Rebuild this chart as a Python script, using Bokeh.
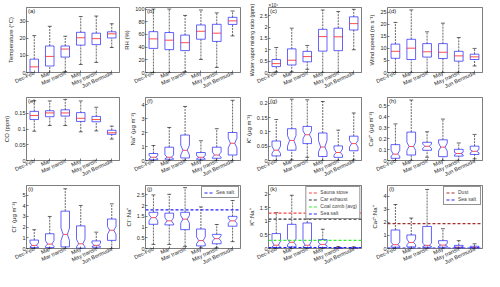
import math
from bokeh.plotting import figure
from bokeh.layouts import gridplot
from bokeh.models import FixedTicker, Label, Legend, LegendItem, NumeralTickFormatter
from bokeh.embed import file_html
from bokeh.resources import INLINE

categories = ["Dec-Feb", "Mar", "Mar transit", "May", "May transit", "Jun Bermuda"]

# (a) Temperature (°C)
temp_lw = [-10.0, -5.0, 0.5, 4.7, 5.9, 14.6]
temp_q1 = [-0.5, 3.8, 9.0, 16.0, 16.3, 20.2]
temp_med = [3.3, 9.4, 13.7, 20.3, 19.8, 22.6]
temp_q3 = [7.8, 15.5, 15.5, 23.5, 23.0, 23.8]
temp_uw = [21.6, 27.0, 21.2, 32.7, 33.0, 28.5]

# (b) RH (%)
rh_lw = [0.0, 0.0, 1.0, 20.6, 8.0, 57.7]
rh_q1 = [38.0, 36.0, 34.5, 52.5, 49.0, 75.8]
rh_med = [53.0, 51.0, 47.0, 65.0, 62.0, 81.4]
rh_q3 = [64.4, 63.0, 59.0, 75.0, 76.0, 87.0]
rh_uw = [100.0, 100.0, 90.0, 98.5, 94.0, 97.0]

# (c) Water vapor mixing ratio (x10^4 ppm)
wv_lw = [0.03, 0.03, 0.14, 0.0, 0.0, 1.0]
wv_q1 = [0.26, 0.33, 0.47, 0.94, 0.96, 1.87]
wv_med = [0.39, 0.54, 0.70, 1.58, 1.57, 2.15]
wv_q3 = [0.57, 1.04, 0.93, 1.90, 1.95, 2.45]
wv_uw = [1.10, 1.95, 1.19, 2.75, 2.68, 2.78]

# (d) Wind speed (m/s)
ws_lw = [0.0, 0.0, 0.0, 0.0, 0.0, 2.7]
ws_q1 = [5.9, 5.4, 6.4, 5.8, 4.7, 5.4]
ws_med = [8.8, 10.1, 8.6, 8.4, 6.9, 6.5]
ws_q3 = [11.8, 13.8, 12.0, 12.0, 8.8, 7.6]
ws_uw = [20.8, 26.0, 16.9, 20.5, 14.5, 10.0]

# (e) CO (ppm)
co_lw = [0.093, 0.111, 0.111, 0.091, 0.094, 0.068]
co_q1 = [0.130, 0.139, 0.141, 0.124, 0.123, 0.083]
co_med = [0.143, 0.151, 0.151, 0.134, 0.130, 0.088]
co_q3 = [0.156, 0.158, 0.161, 0.152, 0.140, 0.096]
co_uw = [0.190, 0.189, 0.194, 0.189, 0.169, 0.109]

# (f) Na+
na_lw = [0.0, 0.0, 0.0, 0.0, 0.0, 0.0]
na_q1 = [0.05, 0.09, 0.18, 0.09, 0.16, 0.39]
na_nlo = [0.12, 0.12, 0.40, 0.12, 0.22, 0.90]
na_med = [0.23, 0.23, 0.73, 0.23, 0.39, 1.23]
na_nhi = [0.35, 0.40, 1.10, 0.35, 0.60, 1.60]
na_q3 = [0.50, 0.95, 1.82, 0.57, 0.95, 2.00]
na_uw = [1.07, 2.36, 3.86, 1.41, 2.27, 4.30]

# (g) K+
k_lw = [0.0, 0.002, 0.011, 0.0, 0.0, 0.002]
k_q1 = [0.016, 0.036, 0.059, 0.014, 0.011, 0.034]
k_nlo = [0.025, 0.050, 0.076, 0.030, 0.019, 0.047]
k_med = [0.036, 0.070, 0.090, 0.047, 0.028, 0.059]
k_nhi = [0.050, 0.087, 0.104, 0.070, 0.040, 0.070]
k_q3 = [0.068, 0.111, 0.119, 0.096, 0.051, 0.085]
k_uw = [0.143, 0.214, 0.212, 0.206, 0.106, 0.166]

# (h) Ca2+
ca_lw = [0.0, 0.0, 0.03, 0.0, 0.0, 0.015]
ca_q1 = [0.020, 0.050, 0.093, 0.035, 0.040, 0.055]
ca_nlo = [0.040, 0.093, 0.110, 0.087, 0.052, 0.070]
ca_med = [0.058, 0.128, 0.130, 0.122, 0.064, 0.084]
ca_nhi = [0.093, 0.166, 0.150, 0.160, 0.075, 0.100]
ca_q3 = [0.145, 0.259, 0.166, 0.189, 0.102, 0.131]
ca_uw = [0.334, 0.552, 0.262, 0.378, 0.160, 0.238]

# (i) Cl-
cl_lw = [0.0, 0.0, 0.0, 0.0, 0.0, 0.0]
cl_q1 = [0.09, 0.09, 0.15, 0.03, 0.12, 0.76]
cl_nlo = [0.15, 0.20, 0.74, 0.15, 0.18, 1.32]
cl_med = [0.29, 0.41, 1.32, 0.44, 0.29, 1.71]
cl_nhi = [0.53, 0.74, 1.91, 0.88, 0.50, 2.06]
cl_q3 = [0.79, 1.38, 3.50, 2.12, 0.71, 2.76]
cl_uw = [1.76, 3.00, 5.59, 4.03, 1.53, 4.18]

# (j) Cl-:Na+
clna_lw = [0.19, 0.19, 0.10, 0.03, 0.03, 0.32]
clna_q1 = [1.13, 1.10, 0.88, 0.12, 0.22, 1.04]
clna_nlo = [1.29, 1.15, 1.18, 0.22, 0.34, 1.18]
clna_med = [1.44, 1.29, 1.37, 0.37, 0.46, 1.29]
clna_nhi = [1.57, 1.44, 1.54, 0.54, 0.60, 1.41]
clna_q3 = [1.69, 1.65, 1.69, 0.91, 0.66, 1.50]
clna_uw = [2.50, 2.53, 2.84, 1.94, 1.12, 2.24]
clna_ref_labels = ["Sea salt"]
clna_ref_values = [1.8]

# (k) K+:Na+
kna_lw = [0.0, 0.0, 0.0, 0.0, 0.0, 0.0]
kna_q1 = [0.035, 0.060, 0.035, 0.035, 0.003, 0.003]
kna_nlo = [0.060, 0.130, 0.060, 0.100, 0.008, 0.008]
kna_med = [0.120, 0.230, 0.120, 0.150, 0.012, 0.012]
kna_nhi = [0.270, 0.350, 0.270, 0.220, 0.018, 0.018]
kna_q3 = [0.550, 0.890, 0.940, 0.330, 0.025, 0.025]
kna_uw = [1.32, 1.96, 2.23, 0.71, 0.07, 0.06]
kna_ref_labels = ["Sauna stove", "Car exhaust", "Coal comb (avg)", "Sea salt"]
kna_ref_values = [1.3, 1.08, 0.3, 0.037]

# (l) Ca2+:Na+
cana_lw = [0.0, 0.0, 0.0, 0.0, 0.0, 0.0]
cana_q1 = [0.10, 0.12, 0.10, 0.10, 0.05, 0.03]
cana_nlo = [0.18, 0.30, 0.15, 0.18, 0.08, 0.05]
cana_med = [0.29, 0.46, 0.24, 0.26, 0.10, 0.07]
cana_nhi = [0.48, 0.72, 0.40, 0.38, 0.14, 0.10]
cana_q3 = [1.41, 1.03, 1.68, 0.60, 0.24, 0.17]
cana_uw = [3.35, 2.32, 4.50, 1.51, 0.60, 0.36]
cana_ref_labels = ["Dust", "Sea salt"]
cana_ref_values = [1.9, 0.038]

FONT = "Liberation Sans"
BLUE = "#2020ff"
RED = "#ff2020"
AXC = "#262626"
BOX_W = 0.55
CAP_W = 0.25
X_MIN, X_MAX = 0.5, len(categories) + 0.5
REF_COLORS = {"Sauna stove": "#ff4040", "Car exhaust": "#333333",
              "Coal comb (avg)": "#33ee33", "Sea salt": "#2020ff", "Dust": "#a03030"}


def make_panel(letter, ylabel, y_end, ticks, lw, q1, med, q3, uw, nlo=None, nhi=None,
               refs=None, head=None, height=88, ylabel_size="6px"):
    p = figure(width=121, height=height, x_range=(X_MIN, X_MAX), y_range=(0, y_end),
               output_backend="svg", toolbar_location=None,
               min_border_left=24, min_border_right=2, min_border_top=3, min_border_bottom=12)
    if head is not None:
        p.title.text = head
        p.title.text_font = FONT
        p.title.text_font_size = "4.5px"
        p.title.text_font_style = "normal"
        p.title.text_color = AXC
        p.title.align = "left"
        p.title.standoff = 0
        p.title.offset = 0
        p.min_border_top = 0
    p.background_fill_color = "white"
    p.outline_line_color = AXC
    p.outline_line_width = 0.6
    p.xgrid.visible = False
    p.ygrid.visible = False
    pos = list(range(1, len(categories) + 1))
    p.xaxis.ticker = FixedTicker(ticks=pos)
    p.xaxis.major_label_overrides = {k: c for k, c in zip(pos, categories)}
    p.xaxis.major_label_orientation = math.radians(25)
    p.yaxis.ticker = FixedTicker(ticks=ticks)
    p.yaxis.formatter = NumeralTickFormatter(format="0.[00]")
    for ax in (p.xaxis[0], p.yaxis[0]):
        ax.axis_line_color = None
        ax.major_tick_in = 2
        ax.major_tick_out = 0
        ax.major_tick_line_color = AXC
        ax.major_tick_line_width = 0.6
        ax.minor_tick_line_color = None
        ax.major_label_text_font = FONT
        ax.major_label_text_font_size = "5.5px"
        ax.major_label_text_color = AXC
        ax.major_label_standoff = 1
    p.xaxis.major_label_standoff = 0
    p.yaxis.axis_label = ylabel
    p.yaxis.axis_label_text_font = FONT
    p.yaxis.axis_label_text_font_size = ylabel_size
    p.yaxis.axis_label_text_font_style = "normal"
    p.yaxis.axis_label_text_color = AXC
    p.yaxis.axis_label_standoff = 2

    half = BOX_W / 2
    xs, ys, mx0, mx1 = [], [], [], []
    for i, x in enumerate(pos):
        if nlo is None:
            xs.append([x - half, x + half, x + half, x - half])
            ys.append([q1[i], q1[i], q3[i], q3[i]])
            mx0.append(x - half)
            mx1.append(x + half)
        else:
            xs.append([x - half, x - half, x - half / 2, x - half, x - half,
                       x + half, x + half, x + half / 2, x + half, x + half])
            ys.append([q1[i], nlo[i], med[i], nhi[i], q3[i],
                       q3[i], nhi[i], med[i], nlo[i], q1[i]])
            mx0.append(x - half / 2)
            mx1.append(x + half / 2)
    # whiskers
    p.segment(x0=pos, y0=q3, x1=pos, y1=uw, line_color="black", line_width=0.6, line_dash="2 1")
    p.segment(x0=pos, y0=lw, x1=pos, y1=q1, line_color="black", line_width=0.6, line_dash="2 1")
    cx0 = [x - CAP_W / 2 for x in pos]
    cx1 = [x + CAP_W / 2 for x in pos]
    p.segment(x0=cx0, y0=uw, x1=cx1, y1=uw, line_color="black", line_width=0.6)
    p.segment(x0=cx0, y0=lw, x1=cx1, y1=lw, line_color="black", line_width=0.6)
    p.patches(xs, ys, fill_color=None, line_color=BLUE, line_width=0.7)
    p.segment(x0=mx0, y0=med, x1=mx1, y1=med, line_color=RED, line_width=0.8)

    if refs is not None:
        labels, values = refs
        items = []
        for lab, val in zip(labels, values):
            r = p.line([X_MIN, X_MAX], [val, val], line_color=REF_COLORS[lab],
                       line_dash="3 2", line_width=1.2)
            items.append(LegendItem(label=lab, renderers=[r]))
        leg = Legend(items=items, location="top_right")
        leg.label_text_font = FONT
        leg.label_text_font_size = "5px"
        leg.label_height = 5
        leg.glyph_height = 5
        leg.glyph_width = 10
        leg.label_standoff = 2
        leg.spacing = 1
        leg.padding = 2
        leg.margin = 1
        leg.border_line_color = AXC
        leg.border_line_width = 0.5
        leg.background_fill_alpha = 1.0
        p.add_layout(leg)

    p.add_layout(Label(x=X_MIN, y=y_end, text=letter, x_offset=1.5, y_offset=-0.5,
                       text_baseline="top", text_font=FONT, text_font_size="6px",
                       text_color=AXC))
    return p


H1, H2, H3 = 94, 88, 88

pa = make_panel("(a)", "Temperature (°C)", 38.0, [0, 10, 20, 30],
                temp_lw, temp_q1, temp_med, temp_q3, temp_uw, height=H1, head=" ")
pb = make_panel("(b)", "RH (%)", 102.5, [0, 20, 40, 60, 80, 100],
                rh_lw, rh_q1, rh_med, rh_q3, rh_uw, height=H1, head=" ")
pc = make_panel("(c)", "Water vapor mixing ratio (ppm)", 2.86, [0, 0.5, 1, 1.5, 2, 2.5],
                wv_lw, wv_q1, wv_med, wv_q3, wv_uw, head="×10⁴", height=H1,
                ylabel_size="5.3px")
pd = make_panel("(d)", "Wind speed (m s⁻¹)", 27.0, [0, 5, 10, 15, 20, 25],
                ws_lw, ws_q1, ws_med, ws_q3, ws_uw, height=H1, head=" ")
pe = make_panel("(e)", "CO (ppm)", 0.2, [0, 0.05, 0.1, 0.15],
                co_lw, co_q1, co_med, co_q3, co_uw, height=H2)
pf = make_panel("(f)", "Na⁺ (μg m⁻³)", 4.5, [0, 1, 2, 3, 4],
                na_lw, na_q1, na_med, na_q3, na_uw, na_nlo, na_nhi, height=H2)
pg = make_panel("(g)", "K⁺ (μg m⁻³)", 0.22, [0, 0.05, 0.1, 0.15, 0.2],
                k_lw, k_q1, k_med, k_q3, k_uw, k_nlo, k_nhi, height=H2)
ph = make_panel("(h)", "Ca²⁺ (μg m⁻³)", 0.575, [0, 0.1, 0.2, 0.3, 0.4, 0.5],
                ca_lw, ca_q1, ca_med, ca_q3, ca_uw, ca_nlo, ca_nhi, height=H2)
pi = make_panel("(i)", "Cl⁻ (μg m⁻³)", 5.9, [0, 1, 2, 3, 4, 5],
                cl_lw, cl_q1, cl_med, cl_q3, cl_uw, cl_nlo, cl_nhi, height=H3)
pj = make_panel("(j)", "Cl⁻:Na⁺", 2.94, [0, 0.5, 1, 1.5, 2, 2.5],
                clna_lw, clna_q1, clna_med, clna_q3, clna_uw, clna_nlo, clna_nhi,
                refs=(clna_ref_labels, clna_ref_values), height=H3)
pk = make_panel("(k)", "K⁺:Na⁺", 2.32, [0, 0.5, 1, 1.5, 2],
                kna_lw, kna_q1, kna_med, kna_q3, kna_uw, kna_nlo, kna_nhi,
                refs=(kna_ref_labels, kna_ref_values), height=H3)
pl = make_panel("(l)", "Ca²⁺:Na⁺", 4.8, [0, 1, 2, 3, 4],
                cana_lw, cana_q1, cana_med, cana_q3, cana_uw, cana_nlo, cana_nhi,
                refs=(cana_ref_labels, cana_ref_values), height=H3)

grid = gridplot([[pa, pb, pc, pd], [pe, pf, pg, ph], [pi, pj, pk, pl]],
                toolbar_location=None)

open("out.html", "w").write(file_html(grid, INLINE))
